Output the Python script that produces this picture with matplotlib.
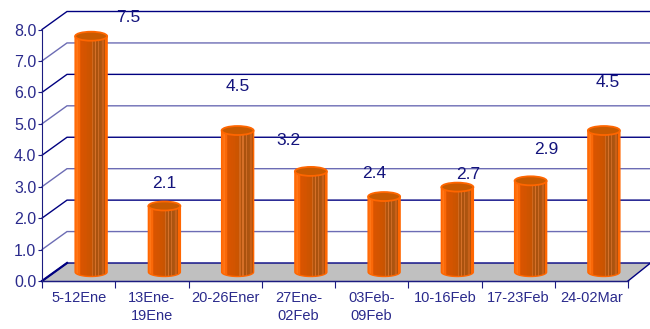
#!/usr/bin/env python3
import matplotlib
matplotlib.use('Agg')
import matplotlib.pyplot as plt
import numpy as np
from matplotlib.patches import Ellipse, Polygon, PathPatch
from matplotlib.path import Path

periods = ['5-12Ene', '13Ene-\n19Ene', '20-26Ener', '27Ene-\n02Feb', '03Feb-\n09Feb',
           '10-16Feb', '17-23Feb', '24-02Mar']
values = [7.5, 2.1, 4.5, 3.2, 2.4, 2.7, 2.9, 4.5]
y_ticks = [0, 1, 2, 3, 4, 5, 6, 7, 8]

# label offsets from the bar top, in points
label_dx = [27, 0, 0, -16, -7, 8, 11, 3]
label_dy = [8, 11, 26, 17, 11, 4, 17, 29]

NAVY = '#1c1c80'
plt.rcParams['font.family'] = ['Liberation Sans Narrow', 'Liberation Sans', 'DejaVu Sans']

fig = plt.figure(figsize=(6.5, 3.29), dpi=100)
ax = fig.add_axes([42 / 650, 48 / 329, 586 / 650, 251.5 / 329])
ax.set_xlim(0, 8)
ax.set_ylim(0, 8)
ax.patch.set_visible(False)

# depth of the fake 3D box in data units
dx = 25 / 73.25
dy = 18 / 31.44

ax.add_patch(Polygon([(0, 0), (8, 0), (8 + dx * 0.9, dy), (dx, dy)], closed=True,
                     facecolor='#c0c0c0', edgecolor='none', clip_on=False, zorder=1))

for v in y_ticks:
    col = '#000080' if v % 2 == 0 else '#6c6cb4'
    ax.plot([0, dx, 8 + dx], [v, v + dy, v + dy], color=col, lw=1.0, clip_on=False, zorder=1.5,
            solid_joinstyle='miter')
ax.plot([0, 8], [0, 0], color=NAVY, lw=1.0, clip_on=False, zorder=2)
ax.plot([8, 8 + dx * 0.9], [0, dy], color='#000080', lw=1.0, clip_on=False, zorder=2)
ax.plot([0, dx], [0, dy], color='#000080', lw=1.6, clip_on=False, zorder=2)

# horizontal gradient across a cylinder: light edge, dark middle, striped right side
shade = np.array([
    [255, 112, 16], [255, 118, 22], [250, 104, 8], [226, 88, 0], [216, 84, 0], [214, 84, 0],
    [212, 84, 0], [210, 84, 0], [206, 84, 0], [204, 84, 0], [200, 84, 2], [208, 104, 30],
    [176, 84, 14], [214, 112, 40], [170, 82, 14], [204, 106, 36], [172, 84, 16], [176, 86, 16],
    [200, 96, 24], [180, 82, 10], [255, 102, 0],
], dtype=np.uint8)[np.newaxis, :, :]

half_w = 16 / 73.25
ell_h = 9 / 31.44

for i, val in enumerate(values):
    cx = i + 0.5 + dx / 2
    base = dy / 2
    top = val + dy / 2
    # body outline: straight sides with an elliptical lower edge
    t = np.linspace(np.pi, 2 * np.pi, 40)
    xs = cx + half_w * np.cos(t)
    ys = base + ell_h / 2 * np.sin(t)
    verts = [(cx - half_w, top)] + list(zip(xs, ys)) + [(cx + half_w, top), (cx - half_w, top)]
    codes = [Path.MOVETO] + [Path.LINETO] * (len(verts) - 2) + [Path.CLOSEPOLY]
    body = PathPatch(Path(verts, codes), facecolor='none', edgecolor='#ff6600', lw=1.0,
                     clip_on=False, zorder=4)
    ax.add_patch(body)
    im = ax.imshow(shade, extent=[cx - half_w, cx + half_w, base - ell_h, top], aspect='auto',
                   interpolation='nearest', zorder=3)
    im.set_clip_path(body)
    ax.add_patch(Ellipse((cx, top), 2 * half_w, ell_h, facecolor='#c85a00', edgecolor='#ff6600',
                         lw=1.3, clip_on=False, zorder=5))
    ax.annotate(f'{val:.1f}', (cx, top), xytext=(label_dx[i], label_dy[i]),
                textcoords='offset points', ha='center', va='bottom', fontsize=12.5,
                color='#14147c', zorder=6)

ax.set_xlim(0, 8)
ax.set_ylim(0, 8)

ax.set_yticks(y_ticks)
ax.set_yticklabels([f'{v:.1f}' for v in y_ticks], fontsize=11.5, color='#2a2a8c')
ax.set_xticks(np.arange(9))
ax.set_xticklabels([])
ax.set_xticks(np.arange(8) + 0.5, periods, minor=True, fontsize=10.5, color='#2a2a8c',
              linespacing=1.35)
ax.tick_params(axis='x', which='major', length=5, color=NAVY, width=0.8)
ax.tick_params(axis='x', which='minor', length=0, pad=7)
ax.tick_params(axis='y', length=3, color=NAVY, width=0.8, pad=1)

for side in ('top', 'right'):
    ax.spines[side].set_visible(False)
ax.spines['left'].set_color(NAVY)
ax.spines['bottom'].set_color(NAVY)
ax.spines['left'].set_linewidth(0.8)
ax.spines['bottom'].set_linewidth(0.8)

fig.savefig('out.png', dpi=100)
